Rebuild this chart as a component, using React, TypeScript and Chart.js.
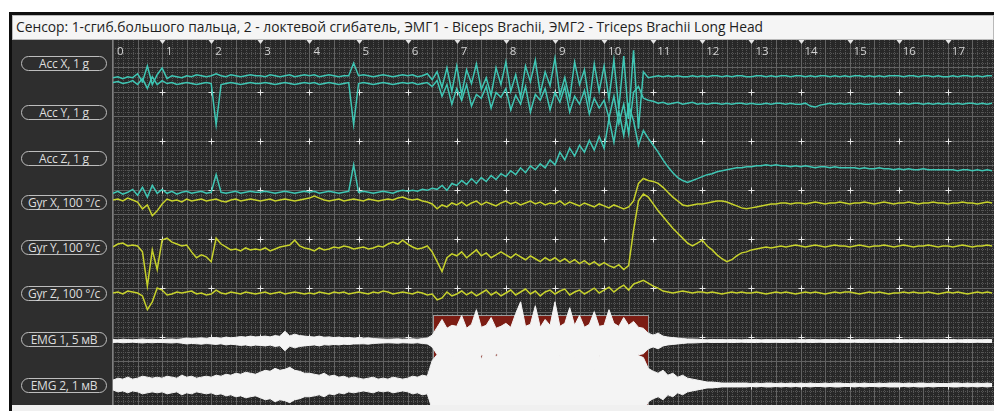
import React, { useEffect, useRef } from "react";
import { Chart, registerables } from "chart.js";

Chart.register(...registerables);

// ---------- texts ----------
const TITLE =
  "Сенсор: 1-сгиб.большого пальца, 2 - локтевой сгибатель, ЭМГ1 - Biceps Brachii, ЭМГ2 - Triceps Brachii Long Head";
const CHANNEL_LABELS = [
  "Acc X, 1 g",
  "Acc Y, 1 g",
  "Acc Z, 1 g",
  "Gyr X, 100 °/c",
  "Gyr Y, 100 °/c",
  "Gyr Z, 100 °/c",
  "EMG 1, 5 мВ",
  "EMG 2, 1 мВ",
];
const TICK_LABELS = ["0", "1", "2", "3", "4", "5", "6", "7", "8", "9", "10", "11", "12", "13", "14", "15", "16", "17"];

// ---------- time axis (s), one sample every 0.1 s ----------
const SAMPLE_COUNT = 180;
const TIME = Array.from({ length: SAMPLE_COUNT }, (_, i) => i / 10);

// ---------- accelerometer, g ----------
const ACC_X = [
  -0.30, -0.28, -0.32, -0.28, -0.30, -0.22, -0.38, -0.06, -0.44, -0.24,
  -0.10, -0.32, -0.26, -0.28, -0.30, -0.26, -0.28, -0.24, -0.26, -0.28,
  -0.26, -0.22, -0.26, -0.28, -0.24, -0.26, -0.28, -0.26, -0.24, -0.26,
  -0.26, -0.28, -0.24, -0.26, -0.28, -0.26, -0.24, -0.28, -0.26, -0.24,
  -0.26, -0.24, -0.28, -0.26, -0.24, -0.26, -0.28, -0.26, -0.26, 0.00,
  -0.26, -0.24, -0.26, -0.28, -0.26, -0.24, -0.26, -0.28, -0.26, -0.24,
  -0.26, -0.24, -0.28, -0.26, -0.22, -0.34, -0.18, -0.50, -0.10, -0.58,
  -0.06, -0.64, -0.14, -0.42, -0.02, -0.54, -0.30, -0.66, -0.10, -0.44,
  0.02, -0.58, -0.24, -0.70, -0.06, -0.38, 0.06, -0.62, -0.18, -0.46,
  0.10, -0.66, -0.30, -0.74, 0.02, -0.44, -0.14, -0.82, -0.02, -0.58,
  -0.06, -0.74, 0.06, -0.94, 0.14, -1.14, 0.26, -1.34, -0.18, -0.30,
  -0.28, -0.26, -0.28, -0.26, -0.28, -0.26, -0.28, -0.28, -0.26, -0.28,
  -0.26, -0.28, -0.26, -0.26, -0.28, -0.26, -0.28, -0.26, -0.26, -0.28,
  -0.28, -0.26, -0.26, -0.28, -0.26, -0.28, -0.26, -0.26, -0.28, -0.26,
  -0.26, -0.28, -0.26, -0.28, -0.26, -0.26, -0.28, -0.26, -0.28, -0.26,
  -0.28, -0.26, -0.26, -0.28, -0.26, -0.28, -0.26, -0.28, -0.26, -0.26,
  -0.26, -0.28, -0.26, -0.26, -0.28, -0.26, -0.26, -0.28, -0.26, -0.28,
  -0.28, -0.26, -0.28, -0.26, -0.26, -0.28, -0.26, -0.28, -0.26, -0.26,
];
const ACC_Y = [
  0.60, 0.62, 0.58, 0.60, 0.64, 0.56, 0.68, 0.48, 0.72, 0.56,
  0.64, 0.58, 0.60, 0.56, 0.58, 0.60, 0.58, 0.56, 0.58, 0.60,
  0.58, -0.26, 0.56, 0.58, 0.60, 0.58, 0.56, 0.58, 0.60, 0.58,
  0.58, 0.60, 0.58, 0.56, 0.58, 0.60, 0.58, 0.56, 0.58, 0.60,
  0.58, 0.60, 0.56, 0.58, 0.60, 0.58, 0.56, 0.58, 0.60, -0.26,
  0.58, 0.60, 0.58, 0.56, 0.58, 0.60, 0.58, 0.56, 0.58, 0.60,
  0.58, 0.60, 0.56, 0.58, 0.60, 0.52, 0.64, 0.32, 0.56, 0.16,
  0.48, 0.24, 0.56, 0.12, 0.36, 0.28, 0.52, 0.08, 0.40, 0.30,
  0.48, 0.04, 0.34, 0.16, 0.52, 0.00, 0.36, 0.24, 0.48, 0.04,
  0.40, 0.20, 0.52, 0.00, 0.32, 0.16, 0.44, -0.04, 0.28, 0.08,
  0.24, -0.12, 0.32, -0.24, 0.16, -0.44, 0.40, 0.52, 0.28, 0.24,
  0.22, 0.18, 0.20, 0.16, 0.18, 0.20, 0.16, 0.18, 0.20, 0.16,
  0.18, 0.16, 0.18, 0.18, 0.16, 0.18, 0.16, 0.18, 0.18, 0.16,
  0.18, 0.16, 0.16, 0.18, 0.16, 0.18, 0.18, 0.16, 0.18, 0.16,
  0.16, 0.18, 0.12, 0.10, 0.14, 0.16, 0.18, 0.16, 0.18, 0.16,
  0.18, 0.16, 0.18, 0.16, 0.16, 0.18, 0.16, 0.18, 0.16, 0.18,
  0.16, 0.18, 0.16, 0.18, 0.18, 0.16, 0.18, 0.16, 0.18, 0.16,
  0.18, 0.16, 0.18, 0.16, 0.18, 0.18, 0.16, 0.18, 0.16, 0.18,
];
const ACC_Z = [
  -0.72, -0.68, -0.74, -0.70, -0.64, -0.76, -0.60, -0.80, -0.56, -0.72,
  -0.64, -0.72, -0.68, -0.74, -0.70, -0.68, -0.72, -0.70, -0.68, -0.72,
  -0.70, -0.34, -0.70, -0.72, -0.70, -0.68, -0.72, -0.70, -0.68, -0.70,
  -0.70, -0.68, -0.70, -0.72, -0.70, -0.68, -0.70, -0.72, -0.70, -0.68,
  -0.70, -0.68, -0.72, -0.70, -0.68, -0.70, -0.72, -0.70, -0.68, -0.14,
  -0.70, -0.68, -0.70, -0.72, -0.70, -0.68, -0.70, -0.72, -0.68, -0.66,
  -0.68, -0.66, -0.68, -0.64, -0.66, -0.62, -0.64, -0.56, -0.66, -0.52,
  -0.56, -0.46, -0.54, -0.42, -0.52, -0.40, -0.48, -0.36, -0.44, -0.32,
  -0.38, -0.26, -0.34, -0.20, -0.30, -0.16, -0.24, -0.12, -0.20, -0.04,
  -0.14, 0.12, -0.04, 0.20, 0.04, 0.26, 0.12, 0.36, 0.16, 0.44,
  0.20, 0.80, 0.32, 0.96, 0.46, 1.08, 0.76, 0.26, 0.56, 0.40,
  0.26, 0.12, -0.04, -0.18, -0.30, -0.40, -0.46, -0.50, -0.46, -0.42,
  -0.38, -0.34, -0.32, -0.28, -0.26, -0.24, -0.22, -0.20, -0.20, -0.18,
  -0.18, -0.16, -0.16, -0.14, -0.16, -0.14, -0.16, -0.16, -0.18, -0.16,
  -0.18, -0.16, -0.18, -0.20, -0.18, -0.18, -0.20, -0.18, -0.20, -0.20,
  -0.20, -0.20, -0.22, -0.20, -0.22, -0.22, -0.20, -0.22, -0.22, -0.24,
  -0.22, -0.24, -0.22, -0.24, -0.24, -0.22, -0.24, -0.24, -0.24, -0.24,
  -0.24, -0.24, -0.26, -0.24, -0.24, -0.26, -0.24, -0.26, -0.24, -0.26,
];

// ---------- gyroscope, °/s ----------
const GYR_X = [
  4, 6, 2, 8, 4, 0, -14, -6, -28, -18,
  -4, 6, 2, 4, 0, 6, 2, 4, 6, 2,
  4, 6, 2, 0, 4, 6, 2, 4, 6, 4,
  2, 4, 6, 2, 4, 6, 4, 2, 4, 6,
  8, 12, 8, 4, 2, 4, 6, 2, 4, 6,
  4, 2, 6, 4, 2, 4, 6, 4, 8, 10,
  6, 4, 6, 2, 0, -4, -14, -6, -10, -2,
  -6, 0, -8, -2, 2, -6, 0, -4, -8, -2,
  2, -4, 0, -6, -2, 2, -4, 0, -6, -2,
  -4, 2, -6, 0, -4, -8, -2, -6, -10, -4,
  -8, -12, -6, -10, -14, -10, 2, 38, 48, 44,
  42, 38, 30, 20, 10, 2, -6, -8, -6, -4,
  -4, -2, 0, 2, 2, 0, -4, -8, -12, -14,
  -12, -10, -8, -6, -4, -4, -2, -2, -4, -2,
  -2, -4, -2, 0, -2, -4, -2, -2, 0, -2,
  -4, -2, -2, 0, -2, -4, -2, 0, -2, -4,
  -2, -2, 0, -2, -4, -2, -2, 0, -2, -2,
  -4, -2, -2, 0, -2, -2, -4, -2, 0, -2,
];
const GYR_Y = [
  0, 6, 8, 2, 4, 2, -10, -80, -6, -46,
  14, 18, 10, 6, 2, 4, -10, -22, -16, -20,
  -30, 18, 6, 0, -6, -4, -8, -2, -6, -4,
  -6, -2, -8, -4, 0, 2, 4, 14, 2, -2,
  -4, -8, -2, -6, -4, 0, -2, 2, 0, -4,
  -2, 0, -4, -2, 2, 0, 6, 10, 6, 14,
  6, 0, -4, -2, 2, -10, -30, -50, -22, -14,
  -18, -10, -22, -14, -6, -18, -12, -22, -16, -10,
  -16, -22, -14, -20, -26, -18, -24, -30, -22, -28,
  -22, -30, -24, -32, -26, -34, -28, -36, -30, -38,
  -32, -38, -42, -36, -46, -38, 34, 94, 108, 102,
  88, 74, 62, 50, 38, 28, 18, 8, 2, 8,
  14, 2, -6, -16, -24, -30, -26, -18, -12, -10,
  -6, -4, -2, 0, -2, 0, 2, 0, 2, 4,
  2, 0, 2, 4, 2, 0, 2, 4, 2, 2,
  0, 2, 4, 2, 0, 2, 2, 4, 2, 0,
  2, 4, 2, 0, 2, 2, 4, 2, 0, 2,
  2, 0, 2, 4, 2, 0, 2, 2, 4, 2,
];
const GYR_Z = [
  0, 2, -2, 4, 2, 0, -6, -34, -18, 10,
  6, -4, -2, 2, 0, 2, 4, -2, 0, -4,
  -2, 6, 0, -2, 2, 0, -2, 2, 0, -2,
  0, 2, -2, 0, 2, -2, 0, 2, 0, -2,
  0, -2, 2, 0, -2, 2, 0, 2, -2, 0,
  2, 0, -2, 2, 0, 4, 2, -2, 0, 2,
  0, -2, 2, 0, -4, -2, -14, -10, 2, -6,
  -2, 4, -4, 2, -6, 0, 6, -4, 2, -6,
  0, 6, -4, 2, 8, -2, 4, -6, 2, 6,
  -2, 4, 8, -4, 2, 6, -2, 4, 10, 0,
  6, 12, 2, 10, 16, 6, 18, 22, 26, 20,
  14, 10, 4, 2, 0, 2, 4, 2, 0, 2,
  2, 0, 2, 0, -2, 0, 2, 0, 2, 0,
  0, 2, 0, -2, 0, 2, 0, 2, 0, -2,
  0, 2, 0, 2, 0, -2, 0, 2, 0, 2,
  2, 0, -2, 0, 2, 0, 2, 0, -2, 0,
  0, 2, 0, 2, 0, 0, 2, 0, -2, 0,
  2, 0, 2, 0, -2, 0, 2, 0, 2, 0,
];

// ---------- EMG envelope amplitude, mV ----------
const EMG_1 = [
  0.15, 0.12, 0.18, 0.15, 0.12, 0.16, 0.20, 0.15, 0.18, 0.14,
  0.15, 0.18, 0.20, 0.16, 0.22, 0.30, 0.25, 0.28, 0.32, 0.26,
  0.30, 0.35, 0.28, 0.40, 0.33, 0.38, 0.45, 0.40, 0.50, 0.42,
  0.45, 0.50, 0.42, 0.55, 0.48, 1.00, 0.52, 0.70, 0.55, 0.50,
  0.45, 0.40, 0.50, 0.38, 0.42, 0.35, 0.40, 0.32, 0.36, 0.30,
  0.30, 0.28, 0.32, 0.25, 0.22, 0.20, 0.18, 0.20, 0.22, 0.18,
  0.20, 0.22, 0.18, 0.25, 0.30, 0.60, 1.40, 2.20, 1.30, 1.60,
  1.50, 2.60, 1.30, 1.70, 3.20, 1.40, 1.60, 2.40, 1.30, 1.50,
  1.80, 1.40, 2.80, 4.00, 1.50, 1.70, 3.60, 1.40, 2.20, 1.60,
  4.00, 1.50, 1.80, 3.40, 1.60, 2.60, 1.40, 1.70, 3.00, 1.50,
  1.60, 3.20, 1.80, 1.50, 2.40, 1.60, 2.00, 1.40, 1.30, 0.80,
  0.60, 0.80, 0.50, 0.40, 0.35, 0.30, 0.25, 0.20, 0.20, 0.18,
  0.15, 0.12, 0.16, 0.14, 0.15, 0.13, 0.16, 0.14, 0.12, 0.15,
  0.14, 0.16, 0.12, 0.15, 0.14, 0.13, 0.15, 0.16, 0.14, 0.12,
  0.15, 0.13, 0.16, 0.14, 0.12, 0.15, 0.14, 0.16, 0.13, 0.15,
  0.14, 0.12, 0.15, 0.16, 0.14, 0.13, 0.15, 0.14, 0.16, 0.12,
  0.15, 0.14, 0.13, 0.16, 0.15, 0.12, 0.14, 0.15, 0.13, 0.16,
  0.14, 0.15, 0.12, 0.14, 0.16, 0.15, 0.13, 0.14, 0.15, 0.14,
];
const EMG_2 = [
  0.10, 0.14, 0.12, 0.16, 0.12, 0.14, 0.18, 0.16, 0.14, 0.16,
  0.14, 0.18, 0.16, 0.14, 0.20, 0.16, 0.18, 0.14, 0.16, 0.18,
  0.16, 0.20, 0.18, 0.22, 0.20, 0.24, 0.22, 0.26, 0.24, 0.22,
  0.26, 0.30, 0.28, 0.34, 0.30, 0.32, 0.36, 0.30, 0.28, 0.24,
  0.24, 0.22, 0.20, 0.24, 0.18, 0.20, 0.16, 0.18, 0.14, 0.16,
  0.14, 0.12, 0.14, 0.16, 0.12, 0.14, 0.12, 0.16, 0.14, 0.12,
  0.14, 0.18, 0.16, 0.20, 0.18, 0.50, 0.62, 0.55, 0.70, 0.58,
  0.64, 0.56, 0.72, 0.60, 0.66, 0.54, 0.70, 0.62, 0.58, 0.68,
  0.60, 0.74, 0.56, 0.66, 0.62, 0.70, 0.58, 0.64, 0.72, 0.60,
  0.66, 0.58, 0.70, 0.62, 0.56, 0.68, 0.64, 0.60, 0.72, 0.58,
  0.64, 0.70, 0.60, 0.66, 0.58, 0.62, 0.68, 0.60, 0.56, 0.34,
  0.28, 0.24, 0.30, 0.20, 0.24, 0.16, 0.20, 0.14, 0.12, 0.10,
  0.08, 0.06, 0.06, 0.05, 0.04, 0.04, 0.04, 0.04, 0.04, 0.04,
  0.03, 0.04, 0.03, 0.04, 0.04, 0.03, 0.04, 0.03, 0.04, 0.03,
  0.04, 0.03, 0.04, 0.03, 0.03, 0.04, 0.03, 0.04, 0.04, 0.03,
  0.03, 0.04, 0.03, 0.04, 0.03, 0.03, 0.04, 0.03, 0.04, 0.04,
  0.04, 0.03, 0.04, 0.03, 0.04, 0.04, 0.03, 0.04, 0.03, 0.03,
  0.03, 0.04, 0.04, 0.03, 0.04, 0.03, 0.04, 0.03, 0.04, 0.03,
];

// selected interval (s)
const SELECTION_START = 6.52;
const SELECTION_END = 10.9;

// ---------- layout / style constants ----------
const X_MAX = 17.94; // seconds visible
const Y_MIN = -0.061; // divisions from top
const Y_MAX = 7.388;
// row of each channel (divisions from top) and units per division
const ROW = [0.408, 1.408, 2.347, 3.245, 4.163, 5.102, 6.082, 6.98];
const UNIT = [1, 1, 1, 100, 100, 100, 5, 1];
const LABEL_CENTER_PX = [63, 112, 158, 202, 247, 293, 339, 385];
const SELECTION_TOP_DIV = 5.55;

const CYAN = "#3fc6b4";
const YELLOW = "#c7d22c";

const trace = (vals: number[], ch: number) =>
  vals.map((v, i) => ({ x: TIME[i], y: ROW[ch] - v / UNIT[ch] }));
const envelope = (vals: number[], ch: number, sign: number) =>
  vals.map((v, i) => ({ x: TIME[i], y: ROW[ch] + (sign * v) / UNIT[ch] }));

const scopePlugin = {
  id: "scopeGrid",
  beforeDatasetsDraw(chart: any) {
    const { ctx, chartArea: a, scales } = chart;
    const xs = scales.x;
    const ys = scales.y;
    ctx.save();
    ctx.beginPath();
    ctx.rect(a.left, a.top, a.right - a.left, a.bottom - a.top);
    ctx.clip();
    ctx.fillStyle = "#282828";
    ctx.fillRect(a.left, a.top, a.right - a.left, a.bottom - a.top);
    ctx.lineWidth = 1;

    // fine dotted mesh
    ctx.strokeStyle = "#555555";
    ctx.setLineDash([1, 1]);
    ctx.beginPath();
    for (let i = 1; i / 10 <= X_MAX; i++) {
      if (i % 5 === 0) continue;
      const px = Math.round(xs.getPixelForValue(i / 10)) + 0.5;
      ctx.moveTo(px, a.top);
      ctx.lineTo(px, a.bottom);
    }
    for (let j = 1; j / 10 <= Y_MAX; j++) {
      if (j % 5 === 0) continue;
      const py = Math.round(ys.getPixelForValue(j / 10)) + 0.5;
      ctx.moveTo(a.left, py);
      ctx.lineTo(a.right, py);
    }
    ctx.stroke();

    // half-division solid lines
    ctx.setLineDash([]);
    ctx.strokeStyle = "#626262";
    ctx.beginPath();
    for (let k = 0; k / 2 <= X_MAX; k++) {
      const px = Math.round(xs.getPixelForValue(k / 2)) + 0.5;
      ctx.moveTo(px, a.top);
      ctx.lineTo(px, a.bottom);
    }
    for (let k = 1; k / 2 <= Y_MAX; k++) {
      const py = Math.round(ys.getPixelForValue(k / 2)) + 0.5;
      ctx.moveTo(a.left, py);
      ctx.lineTo(a.right, py);
    }
    ctx.stroke();

    // crosses at major intersections
    ctx.strokeStyle = "#e6e6e6";
    ctx.beginPath();
    for (let s = 1; s <= Math.floor(X_MAX); s++) {
      const px = Math.round(xs.getPixelForValue(s)) + 0.5;
      for (let d = 1; d <= Math.floor(Y_MAX); d++) {
        const py = Math.round(ys.getPixelForValue(d)) + 0.5;
        ctx.moveTo(px - 3, py);
        ctx.lineTo(px + 3, py);
        ctx.moveTo(px, py - 3);
        ctx.lineTo(px, py + 3);
      }
    }
    ctx.stroke();

    // top markers
    ctx.fillStyle = "#e6e6e6";
    for (let s = 1; s <= Math.floor(X_MAX); s++) {
      const px = Math.round(xs.getPixelForValue(s)) + 0.5;
      ctx.beginPath();
      ctx.moveTo(px - 3, a.top);
      ctx.lineTo(px + 3, a.top);
      ctx.lineTo(px, a.top + 4);
      ctx.closePath();
      ctx.fill();
    }

    // selected interval
    const sx0 = Math.round(xs.getPixelForValue(SELECTION_START)) + 0.5;
    const sx1 = Math.round(xs.getPixelForValue(SELECTION_END)) + 0.5;
    const sy0 = Math.round(ys.getPixelForValue(SELECTION_TOP_DIV)) + 0.5;
    ctx.fillStyle = "#7c1d14";
    ctx.fillRect(sx0, sy0, sx1 - sx0, a.bottom - sy0 + 2);
    ctx.strokeStyle = "#9c9c9c";
    ctx.strokeRect(sx0, sy0, sx1 - sx0, a.bottom - sy0 + 2);

    // tick labels
    ctx.fillStyle = "#d2d2d2";
    ctx.font = "11.5px 'Open Sans', sans-serif";
    ctx.textBaseline = "alphabetic";
    ctx.textAlign = "left";
    TICK_LABELS.forEach((t, i) => {
      const px = xs.getPixelForValue(i);
      ctx.fillText(t, px + 4, a.top + 15);
    });
    ctx.restore();
  },
};

export default function App() {
  const canvasRef = useRef<HTMLCanvasElement | null>(null);

  useEffect(() => {
    const canvas = canvasRef.current;
    if (!canvas) return;
    const lineSet = (label: string, data: any[], color: string) => ({
      label,
      data,
      borderColor: color,
      borderWidth: 1.5,
      pointRadius: 0,
      fill: false,
      tension: 0,
    });
    const emgSet = (label: string, data: any[], fill: any) => ({
      label,
      data,
      borderColor: "#f4f4f4",
      backgroundColor: "#f4f4f4",
      borderWidth: 1,
      pointRadius: 0,
      fill,
      tension: 0,
    });
    const chart = new Chart(canvas, {
      type: "line",
      data: {
        datasets: [
          lineSet(CHANNEL_LABELS[0], trace(ACC_X, 0), CYAN),
          lineSet(CHANNEL_LABELS[1], trace(ACC_Y, 1), CYAN),
          lineSet(CHANNEL_LABELS[2], trace(ACC_Z, 2), CYAN),
          lineSet(CHANNEL_LABELS[3], trace(GYR_X, 3), YELLOW),
          lineSet(CHANNEL_LABELS[4], trace(GYR_Y, 4), YELLOW),
          lineSet(CHANNEL_LABELS[5], trace(GYR_Z, 5), YELLOW),
          emgSet(CHANNEL_LABELS[6], envelope(EMG_1, 6, -1), "+1"),
          emgSet(CHANNEL_LABELS[6] + " low", envelope(EMG_1, 6, 1), false),
          emgSet(CHANNEL_LABELS[7], envelope(EMG_2, 7, -1), "+1"),
          emgSet(CHANNEL_LABELS[7] + " low", envelope(EMG_2, 7, 1), false),
        ] as any,
      },
      options: {
        animation: false,
        responsive: false,
        maintainAspectRatio: false,
        events: [],
        layout: { padding: 0 },
        plugins: {
          legend: { display: false },
          tooltip: { enabled: false },
          title: { display: false },
        },
        scales: {
          x: { type: "linear", min: 0, max: X_MAX, display: false },
          y: { type: "linear", min: Y_MIN, max: Y_MAX, reverse: true, display: false },
        },
      },
      plugins: [scopePlugin],
    } as any);
    return () => chart.destroy();
  }, []);

  const font = "'Open Sans', 'Noto Sans', sans-serif";

  return (
    <div style={{ position: "absolute", left: 0, top: 0, width: 994, height: 411, fontFamily: font }}>
      {/* black frame */}
      <div style={{ position: "absolute", left: 9, top: 12, width: 985, height: 399, background: "#0e0e0e" }} />
      {/* title bar */}
      <div
        style={{
          position: "absolute",
          left: 12,
          top: 15,
          width: 982,
          height: 25,
          boxSizing: "border-box",
          background: "#f5f5f5",
          border: "1px solid #b9b9b9",
          color: "#1e1e1e",
          fontSize: 13.8,
          lineHeight: "22px",
          paddingLeft: 3,
          whiteSpace: "nowrap",
          overflow: "hidden",
        }}
      >
        {TITLE}
      </div>
      {/* channel label panel */}
      <div
        style={{
          position: "absolute",
          left: 12,
          top: 40,
          width: 101,
          height: 365,
          boxSizing: "border-box",
          background: "#2e2e2e",
          borderRight: "1px solid #7d7d7d",
        }}
      />
      {CHANNEL_LABELS.map((t, i) => (
        <div
          key={t}
          style={{
            position: "absolute",
            left: 21,
            top: LABEL_CENTER_PX[i] - 7,
            width: 86,
            height: 15,
            boxSizing: "border-box",
            border: "1px solid #bdbdbd",
            borderRadius: 8,
            color: "#dddddd",
            fontSize: 12,
            lineHeight: "13px",
            textAlign: "center",
            whiteSpace: "nowrap",
            letterSpacing: -0.2,
          }}
        >
          {t}
        </div>
      ))}
      {/* plot */}
      <div style={{ position: "absolute", left: 113, top: 40, width: 881, height: 365, background: "#282828" }}>
        <canvas ref={canvasRef} width={881} height={365} style={{ display: "block", width: 881, height: 365 }} />
      </div>
      {/* bottom strip */}
      <div style={{ position: "absolute", left: 12, top: 405, width: 982, height: 6, background: "#f0f0f0" }} />
    </div>
  );
}
